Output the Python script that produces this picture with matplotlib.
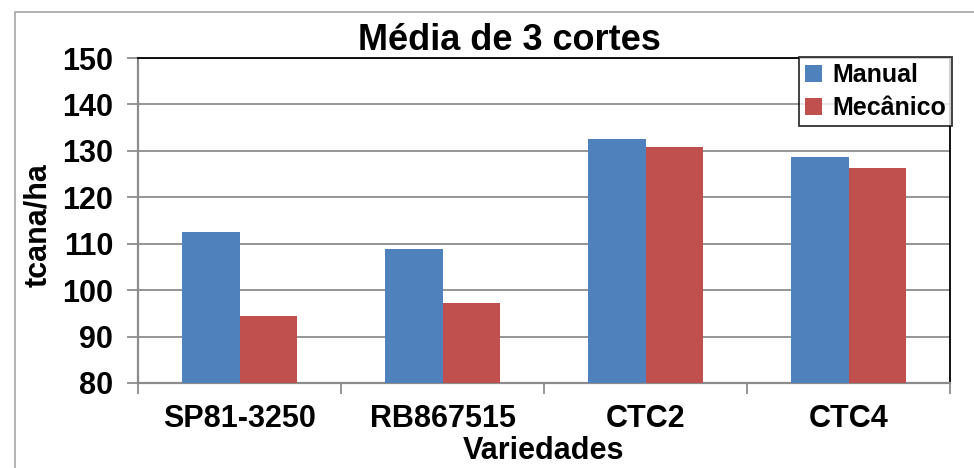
import numpy as np
import matplotlib.pyplot as plt
from matplotlib.patches import Rectangle

plt.rcParams['font.family'] = ['Liberation Sans', 'DejaVu Sans']
plt.rcParams['font.weight'] = 'bold'

variedades = ['SP81-3250', 'RB867515', 'CTC2', 'CTC4']
manual = [112.5, 108.9, 132.6, 128.7]
mecanico = [94.5, 97.3, 130.8, 126.3]
yticks = [80, 90, 100, 110, 120, 130, 140, 150]

fig = plt.figure(figsize=(9.74, 4.68), dpi=100)
ax = fig.add_axes([138/974, 1-383/468, (950-138)/974, (383-58)/468])

# moldura da figura (estilo Excel)
fig.patches.append(Rectangle((15/974, -0.1), 1.2, 1-12/468+0.1, transform=fig.transFigure,
                             fill=False, edgecolor='#a6a6a6', linewidth=1.2))

x = np.arange(len(variedades))
w = 0.285
ax.bar(x - w/2, manual, w, color='#4f81bd', label='Manual', zorder=3)
ax.bar(x + w/2, mecanico, w, color='#c0504d', label='Mecânico', zorder=3)

ax.set_xlim(-0.5, 3.5)
ax.set_ylim(80, 150)
ax.set_yticks(yticks)
ax.yaxis.grid(True, color='#8c8c8c', linewidth=1.3, zorder=0)
ax.set_axisbelow(True)

ax.set_xticks(x)
ax.set_xticklabels(variedades, fontsize=22, fontweight='bold')
ax.set_xticks(np.arange(-0.5, 4, 1), minor=True)
ax.tick_params(axis='x', which='major', length=0, pad=15)
ax.tick_params(axis='x', which='minor', length=8, color='#8c8c8c', width=1.3)
ax.tick_params(axis='y', labelsize=22, length=8, color='#8c8c8c', width=1.3, pad=10)
for lbl in ax.get_yticklabels():
    lbl.set_fontweight('bold')

for s in ['left', 'bottom']:
    ax.spines[s].set_color('#8c8c8c')
    ax.spines[s].set_linewidth(1.6)
for s in ['top', 'right']:
    ax.spines[s].set_color('black')
    ax.spines[s].set_linewidth(1.3)

fig.text(509/974, 1-40/468, 'Média de 3 cortes', fontsize=26, fontweight='bold',
         ha='center', va='center')
fig.text(544/974, 1-451/468, 'Variedades', fontsize=22, fontweight='bold',
         ha='center', va='center')
fig.text(38/974, 1-225/468, 'tcana/ha', fontsize=22, fontweight='bold',
         ha='center', va='center', rotation=90)

leg = ax.legend(loc='upper right', bbox_to_anchor=(1.003, 1.003),
                prop={'weight': 'bold', 'size': 18}, frameon=True, fancybox=False,
                handlelength=0.7, handleheight=0.7, handletextpad=0.4,
                borderpad=0.25, labelspacing=0.35, borderaxespad=0)
leg.get_frame().set_edgecolor('black')
leg.get_frame().set_linewidth(1.3)

plt.savefig('out.png', dpi=100)
